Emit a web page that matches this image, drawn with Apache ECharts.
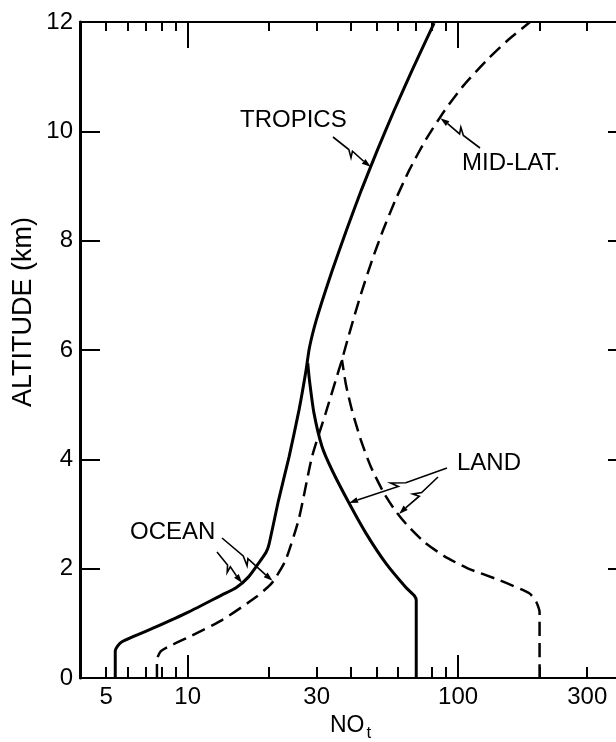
<!DOCTYPE html>
<html>
<head>
<meta charset="utf-8">
<script src="https://cdn.jsdelivr.net/npm/echarts@6/dist/echarts.min.js"></script>
<style>
html,body{margin:0;padding:0;background:#fff;}
#chart{width:616px;height:742px;}
</style>
</head>
<body>
<div id="chart"></div>
<script>
// NOt mixing ratio profiles versus altitude, tropics (solid) and mid-latitudes (dashed),
// each with an ocean branch and a land branch below ~6 km.

const tropicsOceanNO  = [5.4, 5.4, 5.7, 7.6, 10.1, 13.4, 15.1, 16.8, 18.3, 19.5, 20.0, 21.7, 23.7, 25.8, 27.4, 28.1, 28.88, 29.91, 31.49, 34.26, 38.64, 43.91, 50.33, 58.09, 67.61, 81.5];
const tropicsOceanAlt = [0, 0.5, 0.66, 0.93, 1.21, 1.52, 1.65, 1.85, 2.1, 2.3, 2.45, 3.26, 4.04, 4.9, 5.63, 6.0, 6.27, 6.55, 6.91, 7.46, 8.19, 8.93, 9.66, 10.39, 11.12, 11.98];

const tropicsLandNO  = [70, 70, 69, 64, 54, 45.6, 39.5, 34.2, 31.4, 29.3, 28.2, 27.8];
const tropicsLandAlt = [0, 1.42, 1.5, 1.66, 2.1, 2.65, 3.2, 3.8, 4.23, 4.85, 5.45, 5.76];

const midLatOceanNO  = [7.7, 7.7, 8.0, 10.1, 13.4, 17.9, 20.5, 23.0, 25.8, 28.8, 32.4, 36.2, 37.2, 38.97, 41.44, 44.22, 48.12, 52.76, 58.6, 65.96, 75.8, 89.4, 105.2, 127.6, 152.9, 184.4];
const midLatOceanAlt = [0, 0.33, 0.5, 0.75, 1.06, 1.48, 1.74, 2.15, 2.92, 4.04, 4.85, 5.63, 5.82, 6.18, 6.64, 7.10, 7.65, 8.19, 8.74, 9.29, 9.84, 10.39, 10.85, 11.30, 11.67, 12.0];

const midLatLandNO  = [200, 200, 194.5, 183.2, 141.9, 108, 88.8, 74.8, 64.7, 58.4, 53.2, 47.6, 43.7, 40.5, 38.5, 37.2];
const midLatLandAlt = [0, 1.21, 1.39, 1.55, 1.79, 2.01, 2.23, 2.49, 2.8, 3.07, 3.38, 3.86, 4.35, 4.9, 5.36, 5.82];

// axis ticks and labels
const xLabelValues = [5, 10, 30, 100, 300];
const xMinorTicks  = [5, 6, 7, 8, 9, 20, 30, 40, 50, 60, 70, 80, 90, 200, 300];
const xMajorTicks  = [10, 100];

const FONT = '"Liberation Sans", Arial, Helvetica, sans-serif';

function pairs(xs, ys) { return xs.map((v, i) => [v, ys[i]]); }

function xAxisDef(position, ticks, len, showLine, labels) {
  return {
    type: 'log', logBase: 10, min: 4, max: 400, position: position,
    axisLine: { show: showLine, lineStyle: { color: '#000', width: 2 } },
    axisTick: { show: true, inside: true, length: len, customValues: ticks,
                lineStyle: { color: '#000', width: 2 } },
    axisLabel: labels ? { show: true, customValues: labels, margin: 7,
                          color: '#000', fontSize: 24, fontFamily: FONT,
                          formatter: v => String(Math.round(v)) }
                      : { show: false },
    splitLine: { show: false }
  };
}

function lineSeries(name, xs, ys, dashed) {
  return {
    name: name, type: 'line', xAxisIndex: 0, yAxisIndex: 0,
    data: pairs(xs, ys), showSymbol: false, symbol: 'none',
    smooth: 0.2, silent: true, animation: false,
    lineStyle: { color: '#000', width: dashed ? 2.5 : 3, type: dashed ? [14, 7] : 'solid' }
  };
}

const chart = echarts.init(document.getElementById('chart'), null, { renderer: 'canvas' });

chart.setOption({
  animation: false,
  backgroundColor: '#fff',
  grid: { left: 80, top: 22, width: 541, height: 656, containLabel: false, outerBoundsMode: 'none' },
  xAxis: [
    Object.assign(xAxisDef('bottom', xMinorTicks, 11, true, xLabelValues), {
      name: '{n|NO}{s|t}', nameLocation: 'middle', nameGap: 36,
      nameTextStyle: { rich: {
        n: { fontSize: 23, fontFamily: FONT, color: '#000', verticalAlign: 'top', lineHeight: 24 },
        s: { fontSize: 17, fontFamily: FONT, color: '#000', verticalAlign: 'top', lineHeight: 17, padding: [11, 0, 0, 2] }
      } }
    }),
    xAxisDef('bottom', xMajorTicks, 23, false, null),
    xAxisDef('top', xMinorTicks, 9, true, null),
    xAxisDef('top', xMajorTicks, 26, false, null)
  ],
  yAxis: [
    {
      type: 'value', min: 0, max: 12, interval: 2, position: 'left',
      axisLine: { show: true, lineStyle: { color: '#000', width: 3 } },
      axisTick: { show: true, inside: true, length: 20, lineStyle: { color: '#000', width: 2 } },
      axisLabel: { color: '#000', fontSize: 24, fontFamily: FONT, margin: 7 },
      splitLine: { show: false }
    },
    {
      type: 'value', min: 0, max: 12, interval: 2, position: 'right',
      axisLine: { show: true, lineStyle: { color: '#000', width: 2 } },
      axisTick: { show: true, inside: true, length: 13, lineStyle: { color: '#000', width: 2 } },
      axisLabel: { show: false },
      splitLine: { show: false }
    }
  ],
  series: [
    lineSeries('Tropics ocean', tropicsOceanNO, tropicsOceanAlt, false),
    lineSeries('Tropics land', tropicsLandNO, tropicsLandAlt, false),
    lineSeries('Mid-lat ocean', midLatOceanNO, midLatOceanAlt, true),
    lineSeries('Mid-lat land', midLatLandNO, midLatLandAlt, true)
  ]
});

// Curve labels with zig-zag leaders; each leader ends on a curve point given in data units.
const annotations = [
  { text: 'TROPICS', x: 240, y: 120, leaders: [ { from: [333, 137], to: [47.5, 9.35] } ] },
  { text: 'MID-LAT.', x: 462, y: 163, leaders: [ { from: [480, 148], to: [86, 10.24] } ] },
  { text: 'LAND', x: 457, y: 463, leaders: [ { from: [447, 468], to: [39.5, 3.2] },
                                             { from: [438, 477], to: [60.5, 3.0] } ] },
  { text: 'OCEAN', x: 130, y: 532, leaders: [ { from: [217, 552], to: [15.9, 1.74] },
                                              { from: [222, 538], to: [20.6, 1.78] } ] }
];

function leaderShapes(a, b) {
  const dx = b[0] - a[0], dy = b[1] - a[1];
  const L = Math.hypot(dx, dy);
  const u = [dx / L, dy / L], n = [-u[1], u[0]];
  const at = (t, off) => [a[0] + u[0] * L * t + n[0] * off, a[1] + u[1] * L * t + n[1] * off];
  const tipBase = [b[0] - u[0] * 9, b[1] - u[1] * 9];
  return [
    { type: 'polyline', silent: true,
      shape: { points: [a, at(0.42, 0), at(0.56, 5), at(0.5, -1), tipBase] },
      style: { stroke: '#000', lineWidth: 1.6, fill: null } },
    { type: 'polygon', silent: true,
      shape: { points: [b, [tipBase[0] + n[0] * 3, tipBase[1] + n[1] * 3],
                           [tipBase[0] - n[0] * 3, tipBase[1] - n[1] * 3]] },
      style: { fill: '#000' } }
  ];
}

function drawAnnotations() {
  const els = [];
  annotations.forEach(an => {
    els.push({ type: 'text', silent: true, x: an.x, y: an.y,
      style: { text: an.text, fill: '#000', font: '24px ' + FONT,
               textAlign: 'left', textVerticalAlign: 'middle' } });
    an.leaders.forEach(ld => {
      const tip = chart.convertToPixel({ xAxisIndex: 0, yAxisIndex: 0 }, ld.to);
      leaderShapes(ld.from, tip).forEach(s => els.push(s));
    });
  });
  els.push({ type: 'text', silent: true, x: 24, y: 312, rotation: Math.PI / 2,
    style: { text: 'ALTITUDE (km)', fill: '#000', font: '27px ' + FONT,
             textAlign: 'center', textVerticalAlign: 'middle' } });
  chart.setOption({ graphic: { elements: els } });
}
drawAnnotations();
</script>
</body>
</html>
